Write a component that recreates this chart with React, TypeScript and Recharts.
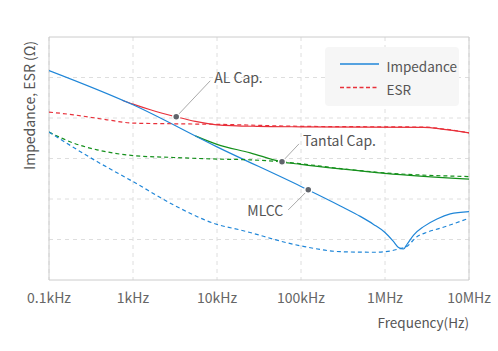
import React from 'react';
import {
  LineChart,
  Line,
  XAxis,
  YAxis,
  CartesianGrid,
  ReferenceLine,
  ReferenceDot,
  Legend,
} from 'recharts';

const FONT = '"Noto Sans CJK KR", "Noto Sans", sans-serif';

const freqTicks = [100, 1e3, 1e4, 1e5, 1e6, 1e7];
const freqLabels = ['0.1kHz', '1kHz', '10kHz', '100kHz', '1MHz', '10MHz'];
const ohmTicks = [0.001, 0.01, 0.1, 1, 10, 100, 1000];

// MLCC (blue)
const mlccZFreq = [100, 1e3, 1e4, 1e5, 2.94e5, 5.08e5, 7.31e5, 1e6, 1.26e6, 1.45e6, 1.66e6, 1.83e6, 2.19e6, 2.88e6, 4.16e6, 5.98e6, 1e7];
const mlccZ = [149, 21.2, 1.94, 0.204, 0.0674, 0.0372, 0.0236, 0.0149, 0.00895, 0.00636, 0.00583, 0.00764, 0.0129, 0.0208, 0.0322, 0.0429, 0.0489];
const mlccEsrFreq = [100, 373, 1e3, 3040, 1e4, 18900, 1e5, 2.94e5, 7.31e5, 1.16e6, 1.45e6, 1.8e6, 2.4e6, 3.16e6, 4.55e6, 1e7];
const mlccEsr = [4.48, 0.841, 0.269, 0.0714, 0.0236, 0.0172, 0.00694, 0.00501, 0.00484, 0.00521, 0.00583, 0.00665, 0.0117, 0.0151, 0.019, 0.0335];

// AL Cap. (red)
const alZFreq = [740, 1e3, 1610, 3270, 5500, 1e4, 3e4, 1e5, 2.88e6, 5e6, 1e7];
const alZ = [27.4, 22.0, 16.0, 10.7, 8.28, 6.79, 6.23, 6.06, 5.89, 5.26, 4.31];
const alEsrFreq = [100, 196, 490, 1e3, 3270, 1e4, 1e5, 2.88e6, 5e6, 1e7];
const alEsr = [14.0, 12.0, 9.03, 7.48, 7.19, 6.98, 6.23, 5.96, 5.35, 4.31];

// Tantal Cap. (green)
const taZFreq = [5520, 1e4, 24900, 59400, 1e5, 3.19e5, 1e6, 1e7];
const taZ = [3.63, 2.24, 1.38, 0.826, 0.716, 0.546, 0.43, 0.308];
const taEsrFreq = [100, 196, 373, 1e3, 3040, 1e4, 24900, 59400, 1e5, 3.19e5, 1e6, 1e7];
const taEsr = [4.48, 2.4, 1.64, 1.18, 1.06, 0.968, 0.927, 0.826, 0.738, 0.555, 0.442, 0.358];

const legendOrder = ['Impedance', 'ESR'];

const BLUE = '#1f86d8';
const RED = '#e8303a';
const GREEN = '#15901c';

const toPoints = (f: number[], v: number[]) => f.map((x, i) => ({ f: x, v: v[i] }));

const Callout = (props: any) => {
  const { cx, cy, lx, ly, tx, ty, anchor, text } = props;
  return (
    <g>
      <line x1={cx} y1={cy} x2={cx + lx} y2={cy + ly} stroke="#aaa" strokeWidth={1} />
      <circle cx={cx} cy={cy} r={3.5} fill="#60646b" stroke="#fff" strokeWidth={1.5} />
      <text
        x={cx + tx}
        y={cy + ty}
        textAnchor={anchor}
        dominantBaseline="central"
        fontSize={14}
        fill="#555"
        fontFamily={FONT}
      >
        {text}
      </text>
    </g>
  );
};

const renderLegend = (props: any) => {
  const items = [...(props.payload || [])]
    .filter((e: any) => legendOrder.includes(e.value))
    .sort((a: any, b: any) => legendOrder.indexOf(a.value) - legendOrder.indexOf(b.value));
  return (
    <div style={{ width: 134, height: 59, background: '#f6f6f6', borderRadius: 4 }}>
      <svg width={134} height={59}>
        {items.map((e: any, i: number) => (
          <g key={e.value}>
            <line
              x1={15}
              x2={54}
              y1={17 + i * 23.5}
              y2={17 + i * 23.5}
              stroke={e.color}
              strokeWidth={1.3}
              strokeDasharray={e.payload?.strokeDasharray === '4 3' ? '4 2.5' : undefined}
            />
            <text
              x={61.5}
              y={19 + i * 23}
              dominantBaseline="central"
              fontSize={13.5}
              fill="#555"
              fontFamily={FONT}
            >
              {e.value}
            </text>
          </g>
        ))}
      </svg>
    </div>
  );
};

// axis titles, drawn from the x axis label slot
const AxisTitles = () => (
  <g fontFamily={FONT} fontSize={14} fill="#555">
    <text x={469} y={322} textAnchor="end" dominantBaseline="central" fontSize={13.5}>
      Frequency(Hz)
    </text>
    <text
      x={29}
      y={41}
      transform="rotate(-90, 29, 41)"
      textAnchor="end"
      dominantBaseline="central"
    >
      Impedance, ESR (Ω)
    </text>
  </g>
);

export default function App() {
  return (
    <div style={{ position: 'absolute', left: 0, top: 0, width: 498, height: 351, background: '#fff', fontFamily: FONT }}>
      <LineChart width={498} height={351} margin={{ top: 37, right: 29, left: 49, bottom: 41 }}>
        <CartesianGrid stroke="#dedede" strokeDasharray="4 4" horizontal={false} verticalValues={freqTicks} />
        <XAxis
          dataKey="f"
          type="number"
          scale="log"
          domain={[100, 1e7]}
          ticks={freqTicks}
          allowDataOverflow
          height={30}
          axisLine={false}
          tickLine={false}
          tickMargin={7}
          tickFormatter={(v: number) => freqLabels[freqTicks.indexOf(v)] ?? ''}
          tick={{ fontSize: 14, fill: '#666', fontFamily: FONT }}
          label={{ content: () => <AxisTitles /> }}
        />
        <YAxis
          type="number"
          scale="log"
          domain={[0.001, 1000]}
          ticks={ohmTicks}
          allowDataOverflow
          width={0}
          axisLine={false}
          tickLine={false}
          tick={false}
        />
        {ohmTicks.slice(1, -1).map((v) => (
          <ReferenceLine key={v} y={v} stroke="#dedede" strokeDasharray="4 4" />
        ))}
        <ReferenceLine x={100} stroke="#cccccc" />
        <ReferenceLine x={1e7} stroke="#cccccc" />
        <ReferenceLine y={1000} stroke="#cccccc" />
        <ReferenceLine y={0.001} stroke="#cccccc" />

        <Line data={toPoints(alZFreq, alZ)} dataKey="v" name="AL Z" type="monotone" stroke={RED} strokeWidth={1.2} dot={false} activeDot={false} legendType="none" isAnimationActive={false} />
        <Line data={toPoints(taZFreq, taZ)} dataKey="v" name="Tantal Z" type="monotone" stroke={GREEN} strokeWidth={1.2} dot={false} activeDot={false} legendType="none" isAnimationActive={false} />
        <Line data={toPoints(mlccZFreq, mlccZ)} dataKey="v" name="Impedance" type="monotone" stroke={BLUE} strokeWidth={1.2} dot={false} activeDot={false} isAnimationActive={false} />
        <Line data={toPoints(alEsrFreq, alEsr)} dataKey="v" name="ESR" type="monotone" stroke={RED} strokeWidth={1.2} strokeDasharray="4 3" dot={false} activeDot={false} isAnimationActive={false} />
        <Line data={toPoints(taEsrFreq, taEsr)} dataKey="v" name="Tantal ESR" type="monotone" stroke={GREEN} strokeWidth={1.2} strokeDasharray="4 3" dot={false} activeDot={false} legendType="none" isAnimationActive={false} />
        <Line data={toPoints(mlccEsrFreq, mlccEsr)} dataKey="v" name="MLCC ESR" type="monotone" stroke={BLUE} strokeWidth={1.2} strokeDasharray="4 3" dot={false} activeDot={false} legendType="none" isAnimationActive={false} />

        <ReferenceDot x={3270} y={10.7} shape={(p: any) => <Callout {...p} lx={34} ly={-36} tx={38} ty={-40} anchor="start" text="AL Cap." />} />
        <ReferenceDot x={59400} y={0.826} shape={(p: any) => <Callout {...p} lx={17} ly={-18} tx={21} ty={-21.5} anchor="start" text="Tantal Cap." />} />
        <ReferenceDot x={122000} y={0.168} shape={(p: any) => <Callout {...p} lx={-20} ly={20} tx={-25} ty={20} anchor="end" text="MLCC" />} />

        <Legend
          layout="vertical"
          align="center"
          verticalAlign="middle"
          wrapperStyle={{ left: 325, top: 47, width: 134, height: 59 }}
          content={renderLegend}
        />
      </LineChart>
    </div>
  );
}
